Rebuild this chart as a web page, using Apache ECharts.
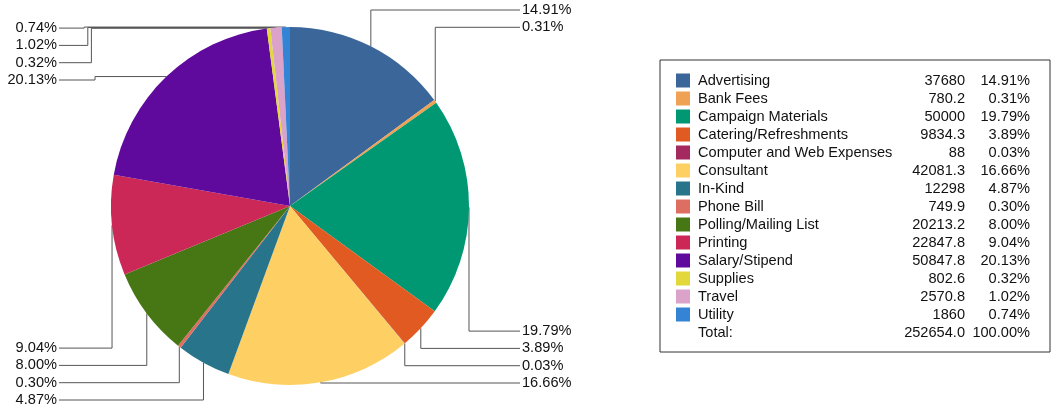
<!DOCTYPE html>
<html>
<head>
<meta charset="utf-8">
<script src="https://cdn.jsdelivr.net/npm/echarts@6/dist/echarts.min.js"></script>
<style>
  html, body { margin: 0; padding: 0; background: #fff; }
  #chart { width: 1051px; height: 414px; }
</style>
</head>
<body>
<div id="chart"></div>
<script>
const categories = [
  "Advertising", "Bank Fees", "Campaign Materials", "Catering/Refreshments",
  "Computer and Web Expenses", "Consultant", "In-Kind", "Phone Bill",
  "Polling/Mailing List", "Printing", "Salary/Stipend", "Supplies", "Travel", "Utility"
];
const amounts = [37680, 780.2, 50000, 9834.3, 88, 42081.3, 12298, 749.9, 20213.2, 22847.8, 50847.8, 802.6, 2570.8, 1860];
const colors = [
  "#3b6699", "#f0a254", "#009873", "#e05a21", "#a3295e", "#fecf62", "#27748b",
  "#dd6e61", "#477715", "#cb2858", "#5f0a9d", "#e3d83b", "#dba3c9", "#3483d4"
];

const FONT = "'Liberation Sans', Arial, sans-serif";
const FS = 14.6;
const total = amounts.reduce((a, b) => a + b, 0);
const pct = (v) => (v / total * 100).toFixed(2) + "%";

// which column / stack each label goes into (from the slice mid angle)
const slots = [];
let acc = 0;
amounts.forEach((v) => {
  const mid = (acc + v / 2) / total;
  acc += v;
  const right = mid < 0.5;
  const top = Math.cos(mid * 2 * Math.PI) > 0;
  slots.push({ key: (right ? "R" : "L") + (top ? "T" : "B") });
});
const groups = {};
slots.forEach((s, i) => { (groups[s.key] = groups[s.key] || []).push(i); });
slots.forEach((s, i) => { s.k = groups[s.key].indexOf(i); s.n = groups[s.key].length; });

const STEP = 17.3;
const rowY = (s) => {
  if (s.key === "RT") return 10 + s.k * STEP;
  if (s.key === "RB") return 383 - (s.n - 1 - s.k) * STEP;
  if (s.key === "LB") return 400 - s.k * STEP;
  return 80 - s.k * STEP;
};

const chart = echarts.init(document.getElementById("chart"));

const cell = (w, align) => ({ width: w, align: align, fontSize: FS, lineHeight: 14, color: "#111", fontFamily: FONT });

chart.setOption({
  animation: false,
  color: colors,
  textStyle: { fontFamily: FONT },
  legend: {
    orient: "vertical",
    left: 660,
    top: 60,
    borderColor: "#333",
    borderWidth: 1,
    padding: [13, 20, 30, 16],
    itemWidth: 14,
    itemHeight: 14,
    itemGap: 3,
    icon: "rect",
    selectedMode: false,
    data: categories,
    formatter: (name) => {
      const i = categories.indexOf(name);
      return "{n|" + name + "}{v|" + amounts[i] + "}{p|" + pct(amounts[i]) + "}";
    },
    textStyle: {
      color: "#111",
      fontSize: FS,
      lineHeight: 14,
      fontFamily: FONT,
      rich: {
        n: Object.assign(cell(177, "left"), { padding: [0, 0, 0, 3] }),
        v: cell(90, "right"),
        p: cell(65, "right")
      }
    }
  },
  graphic: [
    { type: "text", x: 698, y: 333, style: { text: "Total:", fill: "#111", font: FS + "px " + FONT, textAlign: "left", textVerticalAlign: "middle" } },
    { type: "text", x: 965, y: 333, style: { text: Math.round(total).toFixed(1), fill: "#111", font: FS + "px " + FONT, textAlign: "right", textVerticalAlign: "middle" } },
    { type: "text", x: 1030, y: 333, style: { text: "100.00%", fill: "#111", font: FS + "px " + FONT, textAlign: "right", textVerticalAlign: "middle" } }
  ],
  series: [
    {
      type: "pie",
      center: [290, 206],
      radius: 179,
      startAngle: 90,
      clockwise: true,
      avoidLabelOverlap: false,
      minShowLabelAngle: 0,
      data: categories.map((name, i) => ({ name: name, value: amounts[i] })),
      itemStyle: { borderWidth: 0 },
      label: {
        show: true,
        position: "outer",
        formatter: (p) => pct(p.value),
        color: "#111",
        fontSize: FS,
        fontFamily: FONT
      },
      labelLine: {
        show: true,
        length: 10,
        length2: 10,
        lineStyle: { color: "#555", width: 1 }
      },
      labelLayout: (params) => {
        const s = slots[params.dataIndex];
        const ly = rowY(s);
        const p0 = params.labelLinePoints[0];
        const isRight = s.key[0] === "R";
        const endX = isRight ? 520 : 59;
        let pts;
        if (s.key === "LT") {
          const ex = 95 - s.k * 3.6;
          pts = [[p0[0], p0[1]], [ex, p0[1]], [ex, ly], [endX, ly]];
        } else {
          pts = [[p0[0], p0[1]], [p0[0], ly], [endX, ly]];
        }
        return {
          x: isRight ? 522 : 57,
          y: ly,
          align: isRight ? "left" : "right",
          verticalAlign: "middle",
          labelLinePoints: pts
        };
      },
      emphasis: { disabled: true }
    }
  ]
});
</script>
</body>
</html>
